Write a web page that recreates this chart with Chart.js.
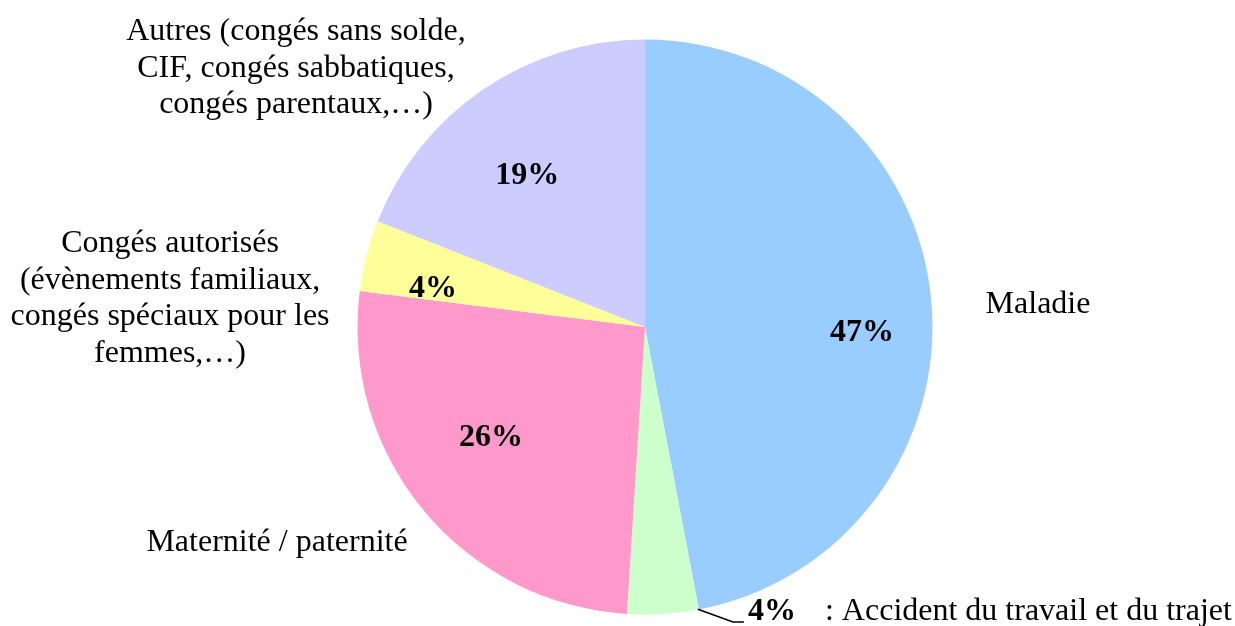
<!DOCTYPE html>
<html>
<head>
<meta charset="utf-8">
<script src="https://cdn.jsdelivr.net/npm/chart.js@4/dist/chart.umd.min.js"></script>
<style>
  body { margin: 0; background: #fff; }
  canvas { display: block; }
</style>
</head>
<body>
<canvas id="chartId" width="1235" height="626"></canvas>
<script>
// slice data, clockwise from 12 o'clock
const categories = [
  'Maladie',
  'Accident du travail et du trajet',
  'Maternité / paternité',
  'Congés autorisés (évènements familiaux, congés spéciaux pour les femmes,…)',
  'Autres (congés sans solde, CIF, congés sabbatiques, congés parentaux,…)'
];
const shares = [47, 4, 26, 4, 19];
const pctLabels = ['47%', '4%', '26%', '4%', '19%'];
const colors = ['#99CCFF', '#CCFFCC', '#FF99CC', '#FFFF99', '#CCCCFF'];

// how the category names are broken over lines
const nameLines = [
  ['Maladie'],
  [': Accident du travail et du trajet'],
  ['Maternité / paternité'],
  ['Congés autorisés', '(évènements familiaux,', 'congés spéciaux pour les', 'femmes,…)'],
  ['Autres (congés sans solde,', 'CIF, congés sabbatiques,', 'congés parentaux,…)']
];

// label placement, in units of the pie radius from its centre
var pctPos = [[0.755, 0.049], [0.442, 1.02], [-0.536, 0.4125], [-0.737, -0.106], [-0.41, -0.499]];
var namePos = [[1.367, -0.05], [0.626, 1.02], [-1.28, 0.78], [-1.652, -0.26], [-1.214, -0.998]];
var lineGap = 36.5;

const labelPlugin = {
  id: 'labels',
  afterDraw(chart) {
    const ctx = chart.ctx;
    const arc = chart.getDatasetMeta(0).data[0];
    const cx = arc.x, cy = arc.y, R = arc.outerRadius;
    ctx.save();
    ctx.fillStyle = '#000';
    ctx.textBaseline = 'alphabetic';

    // percentages
    ctx.font = 'bold 32px "Liberation Serif", "Times New Roman", serif';
    ctx.textAlign = 'center';
    for (let i = 0; i < pctLabels.length; i++) {
      ctx.fillText(pctLabels[i], cx + pctPos[i][0] * R, cy + pctPos[i][1] * R);
    }

    // category names
    ctx.font = '32px "Liberation Serif", "Times New Roman", serif';
    for (let i = 0; i < nameLines.length; i++) {
      ctx.textAlign = (i == 1) ? 'left' : 'center';
      for (let j = 0; j < nameLines[i].length; j++) {
        ctx.fillText(nameLines[i][j], cx + namePos[i][0] * R, cy + namePos[i][1] * R + j * lineGap);
      }
    }

    // leader line for the small accident slice
    ctx.strokeStyle = '#000';
    ctx.lineWidth = 1.6;
    ctx.beginPath();
    ctx.moveTo(cx + 0.184 * R, cy + 0.982 * R);
    ctx.lineTo(cx + 0.306 * R, cy + 1.026 * R);
    ctx.lineTo(cx + 0.344 * R, cy + 1.026 * R);
    ctx.stroke();
    ctx.restore();
  }
};

var ctx = document.getElementById('chartId').getContext('2d');
var pieChart = new Chart(ctx, {
  type: 'pie',
  data: {
    labels: categories,
    datasets: [{
      data: shares,
      backgroundColor: colors,
      borderWidth: 0
    }]
  },
  options: {
    responsive: false,
    animation: false,
    layout: {
      padding: { top: 39.5, bottom: 11.5, left: 357.5, right: 302.5 }
    },
    plugins: {
      legend: { display: false },
      tooltip: { enabled: false }
    }
  },
  plugins: [labelPlugin]
});
</script>
</body>
</html>
